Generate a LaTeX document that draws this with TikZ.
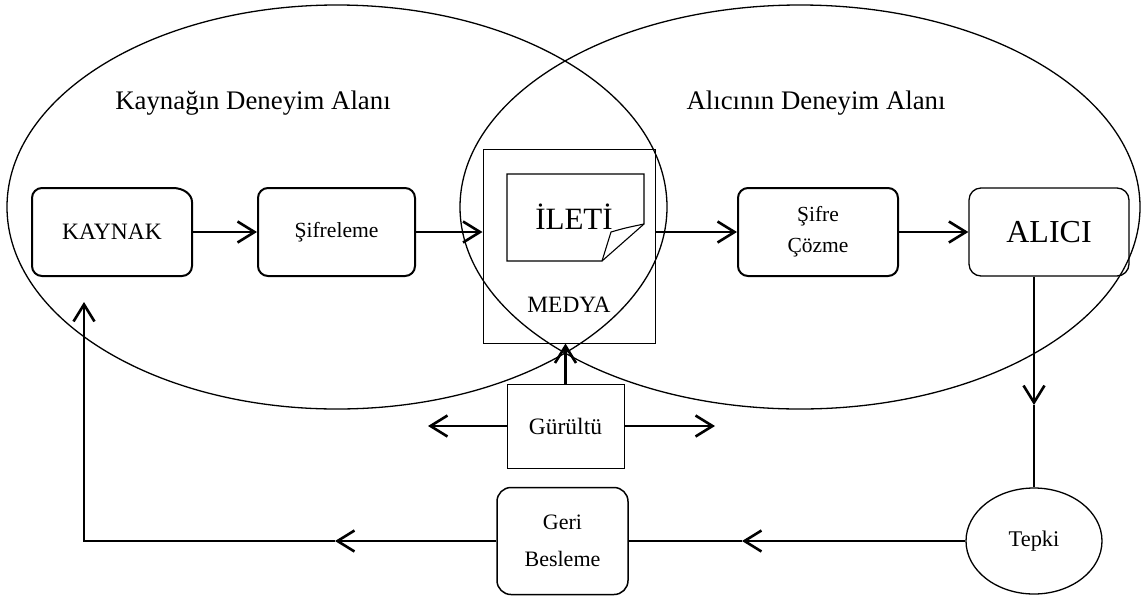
\documentclass[tikz,border=0pt]{standalone}
\usepackage{fontspec}
\setmainfont{Liberation Serif}
\usetikzlibrary{shapes.geometric,arrows.meta}
\newcommand{\fs}[1]{\fontsize{#1}{#1}\selectfont}
\tikzset{
  field/.style={draw, ellipse, line width=1.3pt, inner sep=0pt},
  stagebox/.style={draw, rounded corners=10pt, line width=2pt, inner sep=0pt},
  plainbox/.style={draw, line width=1pt, inner sep=0pt},
  flow/.style={line width=2.6pt},
  tipflow/.style={flow, -{Straight Barb[length=17pt,width=21pt]}},
}
\begin{document}
\begin{tikzpicture}[x=1pt,y=1pt]
\useasboundingbox (0,0) rectangle (1143,-598);

% experience fields of the source and of the receiver
\node[field, minimum width=660pt, minimum height=404pt] (srcfield) at (337,-207) {};
\node[field, minimum width=680pt, minimum height=404pt] (rcvfield) at (800,-207) {};
\node[font=\fs{26.8}] (srctitle) at (253,-103) {Kaynağın Deneyim Alanı};
\node[font=\fs{26.8}] (rcvtitle) at (816,-103) {Alıcının Deneyim Alanı};

% source box with its wider top-right corner
\node[minimum width=160pt, minimum height=88pt, inner sep=0pt, font=\fs{23.5}] (kaynak) at (112,-232) {KAYNAK};
\draw[line width=2pt] (32,-198) arc(180:90:10) -- (173,-188) arc(90:0:19 and 14)
  -- (192,-266) arc(0:-90:10) -- (42,-276) arc(270:180:10) -- cycle;

\node[stagebox, minimum width=157pt, minimum height=88pt, font=\fs{21.6}] (sifreleme) at (336.5,-232) {Şifreleme};

% medium with the message sheet
\node[plainbox, minimum width=172pt, minimum height=194pt] (medya) at (569,-246) {};
\node[font=\fs{23.4}] (medyatext) at (569,-305) {MEDYA};
\draw[line width=1.1pt] (507,-174) -- (644,-174) -- (644,-224) -- (602,-261) -- (507,-261) -- cycle;
\draw[line width=1.1pt] (602,-261) -- (611,-232) .. controls (625,-228) .. (644,-224);
\node[font=\fs{31}] (ileti) at (574,-217) {İLETİ};

\node[stagebox, minimum width=160pt, minimum height=88pt, font=\fs{21.5}, align=center] (cozme) at (818,-232) {Şifre\\[9.5pt]Çözme};
\node[draw, rounded corners=12pt, line width=1.3pt, inner sep=0pt, minimum width=160pt, minimum height=88pt, font=\fs{32}] (alici) at (1049,-232) {ALICI};

% noise
\node[plainbox, minimum width=117pt, minimum height=84pt, font=\fs{23.5}] (gurultu) at (565.5,-426) {Gürültü};

% response and feedback
\node[draw, ellipse, line width=1.3pt, inner sep=0pt, minimum width=136pt, minimum height=106pt, font=\fs{22.4}] (tepki) at (1034,-541) {Tepki};
\node[draw, rounded corners=14pt, line width=1.5pt, inner sep=0pt, minimum width=131pt, minimum height=107pt, font=\fs{22}, align=center] (geri) at (562.5,-541) {Geri\\[15pt]Besleme};

\coordinate (noiseL) at (428,-426);
\coordinate (noiseR) at (715,-426);
\coordinate (downmid) at (1034,-405);
\coordinate (backmid) at (742,-541);
\coordinate (fbmid) at (335,-541);
\coordinate (fbcorner) at (84,-541);
\coordinate (fbtip) at (84,-302);

% forward flow
\draw[tipflow] (kaynak.east) -- (sifreleme.west);
\draw[tipflow] (sifreleme.east) -- (sifreleme.east -| medya.west);
\draw[tipflow] (medya.east |- cozme.west) -- (cozme.west);
\draw[tipflow] (cozme.east) -- (alici.west);

% noise arrows
\draw[tipflow] (gurultu.north) -- (gurultu.north |- medya.south);
\draw[tipflow] (gurultu.west) -- (noiseL);
\draw[tipflow] (gurultu.east) -- (noiseR);

% feedback loop
\draw[tipflow] (tepki.north |- alici.south) -- (downmid);
\draw[flow] (downmid) -- (tepki.north);
\draw[tipflow] (tepki.west) -- (backmid);
\draw[flow] (backmid) -- (geri.east);
\draw[tipflow] (geri.west) -- (fbmid);
\draw[tipflow, line join=miter] (fbmid) -- (fbcorner) -- (fbtip);
\end{tikzpicture}
\end{document}
